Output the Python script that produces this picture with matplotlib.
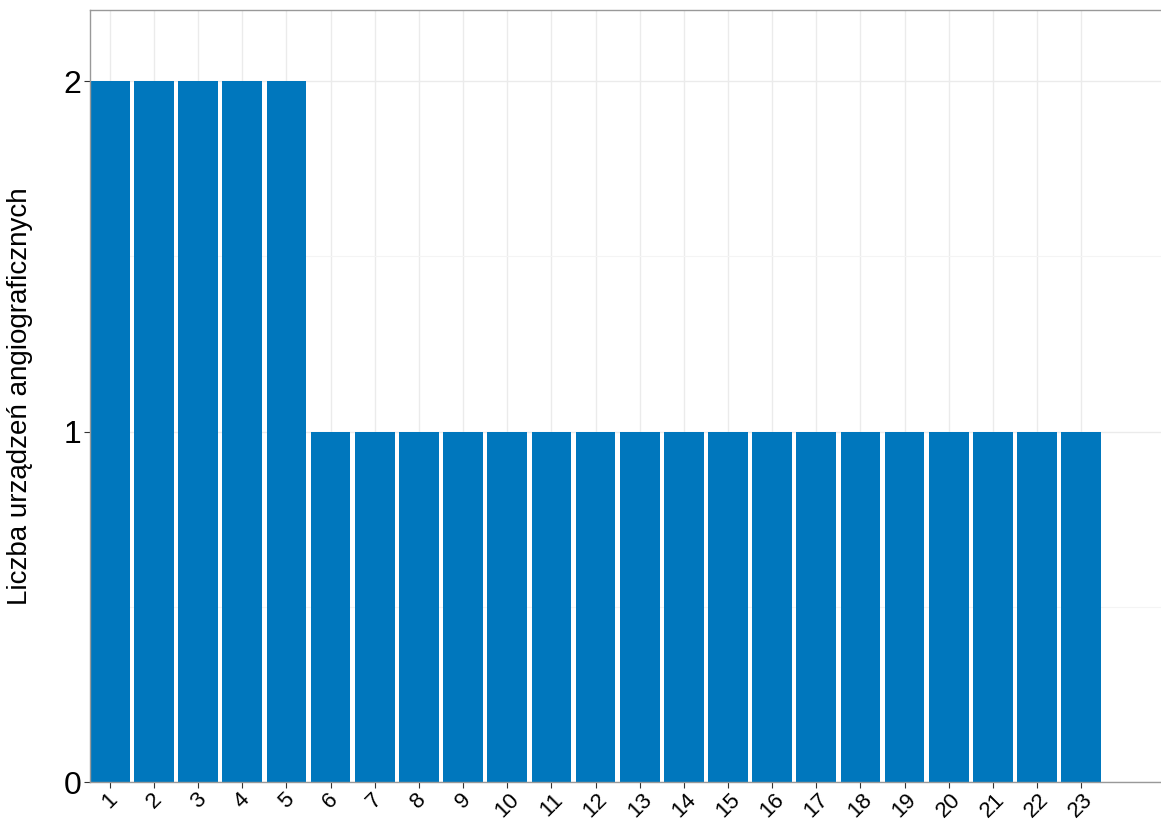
import numpy as np
import matplotlib.pyplot as plt
from matplotlib.ticker import MultipleLocator

plt.rcParams['font.family'] = ['Liberation Sans', 'DejaVu Sans']

# number of angiography units per centre
centres = [str(i) for i in range(1, 24)]
counts = [2, 2, 2, 2, 2, 1, 1, 1, 1, 1, 1, 1, 1, 1, 1, 1, 1, 1, 1, 1, 1, 1, 1]

fig = plt.figure(figsize=(11.61, 8.23), dpi=100)
ax = fig.add_axes([90/1161, 41/823, 1 - 90/1161 + 0.002, 772/823])

x = np.arange(1, len(centres) + 1)
ax.bar(x, counts, width=0.9, color='#0077bd', zorder=2)

ax.set_xlim(0.55, 24.86)
ax.set_ylim(0, 2.203)
ax.set_xticks(x)
ax.set_xticklabels(centres, rotation=45, ha='center', fontsize=16)
ax.set_yticks([0, 1, 2])
ax.set_yticklabels(['0', '1', '2'], fontsize=23)
ax.yaxis.set_minor_locator(MultipleLocator(0.5))

ax.grid(True, which='major', color='#ebebeb', lw=1.0, zorder=0)
ax.grid(True, which='minor', axis='y', color='#f4f4f4', lw=0.8, zorder=0)
ax.tick_params(axis='both', which='major', length=4, width=0.8, color='#333333', pad=2)
ax.tick_params(axis='x', which='major', pad=1)
ax.tick_params(axis='y', which='minor', length=0)

for s in ax.spines.values():
    s.set_color('#999999')
    s.set_linewidth(1.0)

ax.set_ylabel('Liczba urządzeń angiograficznych', fontsize=20, labelpad=22)

fig.savefig('out.png', dpi=100)
